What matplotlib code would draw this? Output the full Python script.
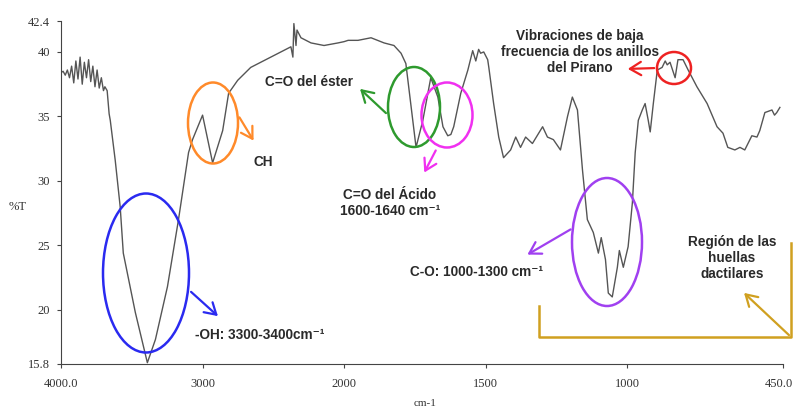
import numpy as np
import matplotlib
matplotlib.use("Agg")
import matplotlib.pyplot as plt
from matplotlib.patches import Ellipse, FancyArrowPatch
from matplotlib.lines import Line2D
from matplotlib.transforms import ScaledTranslation

# spectre IR : nombre d'onde (cm-1) et transmittance (%T)
wn = [4000, 3985, 3970, 3955, 3940, 3925, 3910, 3895, 3880, 3865, 3850, 3835, 3820, 3805,
      3790, 3775, 3760, 3745, 3730, 3715, 3700, 3690, 3674, 3660, 3652, 3617, 3582, 3560,
      3475, 3390, 3333, 3248, 3170, 3099, 3071, 3000, 2929, 2858, 2816, 2752, 2660, 2589,
      2518, 2447, 2376, 2362, 2355, 2340, 2333, 2305, 2234, 2142, 2043, 2000,
      1986, 1951, 1905, 1859, 1824, 1799, 1782, 1746, 1722, 1704, 1694, 1669, 1651, 1634,
      1623, 1613, 1588, 1563, 1546, 1535, 1525, 1518, 1507, 1493, 1489, 1472, 1454, 1437,
      1412, 1394, 1377, 1359, 1335, 1299, 1282, 1261, 1236, 1211, 1194, 1176, 1158, 1141,
      1120, 1102, 1092, 1077, 1067, 1053, 1035, 1028, 1014, 997, 982, 972, 961, 947, 937,
      926, 919, 908, 894, 877, 866, 859, 849, 831, 821, 803, 785, 754, 718, 683, 662, 645,
      620, 602, 585, 560, 542, 532, 514, 489, 480, 472, 461]
tr = [38.4, 38.5, 38.2, 38.6, 38.0, 38.9, 37.6, 39.3, 37.9, 39.6, 37.5, 39.2, 38.0, 39.4,
      37.7, 38.9, 37.3, 38.6, 37.2, 38.0, 37.0, 37.3, 37.0, 35.2, 34.7, 31.6, 28.0, 24.4,
      19.8, 15.9, 17.7, 21.8, 27.0, 32.2, 33.2, 35.1, 31.4, 33.9, 36.8, 37.8, 38.8, 39.2,
      39.6, 40.0, 40.4, 39.6, 42.2, 40.5, 41.7, 41.1, 40.7, 40.5, 40.7, 40.8,
      40.9, 40.9, 41.1, 40.7, 40.5, 39.9, 39.1, 32.6, 34.7, 36.8, 38.0, 36.5, 34.2, 33.5,
      33.6, 34.2, 36.8, 38.6, 40.1, 39.3, 40.2, 39.9, 40.0, 39.4, 38.8, 36.0, 33.4, 31.8,
      32.4, 33.4, 32.6, 33.4, 32.9, 34.2, 33.4, 33.2, 32.4, 35.0, 36.5, 35.5, 30.8, 27.0,
      26.0, 24.4, 25.6, 23.9, 21.3, 21.0, 23.3, 24.6, 23.3, 24.9, 28.3, 32.2, 34.7, 35.5, 36.0,
      34.7, 33.8, 36.0, 38.6, 38.8, 39.3, 39.0, 39.2, 38.0, 39.4, 39.4, 38.6, 37.3, 36.0, 34.2, 33.7, 32.6,
      32.4, 32.6, 32.4, 33.5, 33.4, 33.9, 35.3, 35.5, 35.1, 35.3, 35.7]

xticks = [4000, 3000, 2000, 1500, 1000, 450]
xlabels = ["4000.0", "3000", "2000", "1500", "1000", "450.0"]
yticks = [15.8, 20, 25, 30, 35, 40, 42.4]
ylabels = ["15.8", "20", "25", "30", "35", "40", "42.4"]

W, H = 795, 409

# echelle dilatee x2 en dessous de 2000 cm-1
def fwd(w):
    w = np.asarray(w, float)
    return np.where(w >= 2000, w, 2 * w - 2000)

def inv(u):
    u = np.asarray(u, float)
    return np.where(u >= 2000, u, (u + 2000) / 2)

fig = plt.figure(figsize=(W / 100, H / 100), dpi=100)
ax = fig.add_axes([61 / W, 45 / H, 722 / W, 343 / H])
ax.set_xscale("function", functions=(fwd, inv))
ax.plot(wn, tr, color="#555555", lw=1.0)
ax.set_xlim(4000, 450)
ax.set_ylim(15.8, 42.4)
ax.set_xticks(xticks)
ax.set_xticklabels(xlabels)
ax.set_yticks(yticks)
ax.set_yticklabels(ylabels)
ax.minorticks_off()
for s in ["top", "right"]:
    ax.spines[s].set_visible(False)
for s in ["left", "bottom"]:
    ax.spines[s].set_color("#444444")
ax.tick_params(axis="both", labelsize=9, colors="#444444", length=3, direction="out")
ax.tick_params(axis="x", pad=7)
ax.tick_params(axis="y", pad=5)
for lab in ax.get_xticklabels() + ax.get_yticklabels():
    lab.set_family("Liberation Serif")
    lab.set_color("#333333")
# le dernier label colle au bord de l'image
last = ax.get_xticklabels()[-1]
last.set_transform(last.get_transform() + ScaledTranslation(-0.04, 0, fig.dpi_scale_trans))

fig.text(18 / W, 1 - 207 / H, "%T", family="Liberation Serif", fontsize=9,
         color="#333333", ha="center", va="center")
fig.text(425 / W, 1 - 403 / H, "cm-1", family="Liberation Serif", fontsize=8,
         color="#333333", ha="center", va="center")

def P(x, y):
    return (x / W, 1 - y / H)

def ellipse(cx, cy, w, h, c):
    fig.add_artist(Ellipse(P(cx, cy), w / W, h / H, transform=fig.transFigure,
                           fill=False, ec=c, lw=1.8))

def arrow(x0, y0, x1, y1, c):
    fig.add_artist(FancyArrowPatch(P(x0, y0), P(x1, y1), transform=fig.transFigure,
                                   arrowstyle="->,head_length=0.5,head_width=0.3",
                                   mutation_scale=16, color=c, lw=1.6))

def label(x, y, s, ha="center"):
    fig.text(x / W, 1 - y / H, s, ha=ha, va="center", fontsize=9.8, weight="bold",
             color="#2a2a2a", family=["Liberation Sans", "DejaVu Sans"], linespacing=1.2)

# -OH
ellipse(146, 273, 86, 159, "#2a2af0")
arrow(189, 290, 220, 318, "#2a2af0")
label(195, 335, "-OH: 3300-3400cm⁻¹", ha="left")
# CH
ellipse(213, 123, 50, 81, "#ff8a2a")
arrow(238, 115, 255, 143, "#ff8a2a")
label(263, 162, "CH")
# C=O ester
ellipse(414, 107, 52, 80, "#2e9a2e")
arrow(388, 115, 358, 87, "#2e9a2e")
label(353, 82, "C=O del éster", ha="right")
# C=O acide
ellipse(447, 115, 51, 65, "#f030f0")
arrow(437, 148, 423, 175, "#f030f0")
label(390, 203, "C=O del Ácido\n1600-1640 cm⁻¹")
# C-O
ellipse(607, 242, 70, 128, "#a040f0")
arrow(573, 228, 525, 256, "#a040f0")
label(410, 272, "C-O: 1000-1300 cm⁻¹", ha="left")
# Pirano
ellipse(674, 68, 34, 32, "#ee2222")
arrow(657, 68, 625, 69, "#ee2222")
label(580, 52, "Vibraciones de baja\nfrecuencia de los anillos\ndel Pirano")
# huellas dactilares
gold = "#d0a020"
fig.add_artist(Line2D([539 / W, 539 / W, 791 / W, 791 / W],
                      [1 - 306 / H, 1 - 337 / H, 1 - 337 / H, 1 - 243 / H],
                      transform=fig.transFigure, color=gold, lw=1.8))
arrow(791, 337, 742, 291, gold)
label(732, 258, "Región de las\nhuellas\ndactilares")

fig.savefig("out.png", dpi=100, facecolor="white")
